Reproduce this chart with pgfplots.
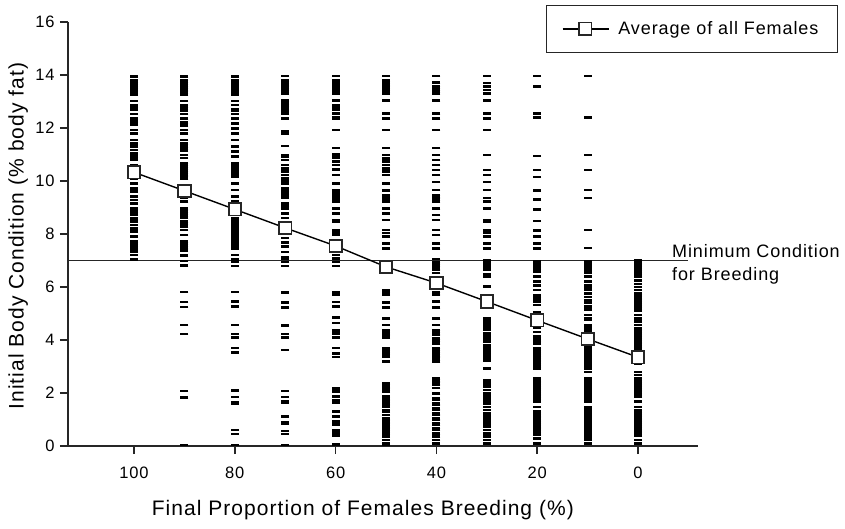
\documentclass[border=0pt]{standalone}
\usepackage{fontspec}
\setmainfont{Liberation Sans}[LetterSpace=5]
\usepackage{pgfplots}
\pgfplotsset{compat=1.18}
\pgfplotsset{dash/.style={only marks, mark=-, mark size=4pt, mark options={line width=2.5pt, black}, forget plot}}
\begin{document}
\begin{tikzpicture}
\path[use as bounding box] (-68pt,-82pt) rectangle (777pt,446pt);
\begin{axis}[
  at={(0pt,0pt)}, anchor=south west,
  scale only axis, width=630pt, height=424pt,
  xmin=-13.1, xmax=111.9, ymin=0, ymax=16,
  x filter/.expression={100-x},
  axis lines*=left, axis line style={line width=1.6pt, black!85, -},
  tick pos=left,
  xtick={0,20,40,60,80,100}, xticklabels={100,80,60,40,20,0},
  ytick={0,2,4,6,8,10,12,14,16},
  minor tick num=0,
  tick align=outside, major tick length=8pt,
  major tick style={line width=1.6pt, black!85},
  /pgf/number format/assume math mode=true,
  ticklabel style={font=\fontsize{16.5}{18}\selectfont},
  xticklabel style={yshift=-9pt},
  yticklabel style={xshift=-2pt},
  xlabel={Final Proportion of Females Breeding (\%)},
  ylabel={Initial Body Condition (\% body fat)},
  label style={font=\fontsize{21}{24}\selectfont},
  xlabel style={at={(axis description cs:0.468,-0.151)}, anchor=center},
  ylabel style={at={(axis description cs:-0.079,0.495)}, anchor=center},
  clip=false,
  legend style={at={(1.222,1.040)}, anchor=north east, draw=black!85, line width=1pt,
    inner xsep=16pt, inner ysep=13pt, column sep=6pt, nodes={inner sep=3pt},
    font=\fontsize{18}{20}\selectfont},
  legend image code/.code={
    \draw[black, line width=1.4pt] (0pt,0pt) -- (46pt,0pt);
    \draw[black!85, fill=white, line width=1.5pt] (16.5pt,-6.2pt) rectangle (29pt,6.2pt);
  },
]
% 100 %
\addplot[dash] coordinates {(100,13.94)(100,13.81)(100,13.74)(100,13.67)(100,13.60)(100,13.53)(100,13.46)(100,13.39)(100,13.32)(100,13.25)(100,13.02)(100,12.87)(100,12.80)(100,12.73)(100,12.68)(100,12.53)(100,12.36)(100,12.29)(100,12.22)(100,12.15)(100,12.11)(100,11.92)(100,11.80)(100,11.55)(100,11.42)(100,11.30)(100,11.17)(100,11.04)(100,10.92)(100,10.85)(100,10.79)(100,10.60)(100,10.48)(100,10.40)(100,10.30)(100,10.22)(100,10.10)(100,9.91)(100,9.72)(100,9.60)(100,9.41)(100,9.28)(100,9.16)(100,8.97)(100,8.90)(100,8.83)(100,8.76)(100,8.72)(100,8.59)(100,8.52)(100,8.47)(100,8.34)(100,8.21)(100,8.09)(100,7.90)(100,7.71)(100,7.64)(100,7.57)(100,7.50)(100,7.43)(100,7.36)(100,7.33)(100,7.21)(100,7.04)};
% 90 %
\addplot[dash] coordinates {(90,13.94)(90,13.81)(90,13.74)(90,13.67)(90,13.60)(90,13.53)(90,13.46)(90,13.39)(90,13.32)(90,13.25)(90,13.02)(90,12.87)(90,12.80)(90,12.73)(90,12.66)(90,12.53)(90,12.36)(90,12.21)(90,12.09)(90,11.92)(90,11.80)(90,11.55)(90,11.42)(90,11.30)(90,11.23)(90,11.16)(90,10.98)(90,10.86)(90,10.67)(90,10.60)(90,10.53)(90,10.46)(90,10.39)(90,10.32)(90,10.25)(90,10.18)(90,10.10)(90,9.85)(90,9.47)(90,9.35)(90,9.22)(90,8.97)(90,8.90)(90,8.83)(90,8.76)(90,8.69)(90,8.62)(90,8.47)(90,8.40)(90,8.28)(90,8.15)(90,7.96)(90,7.71)(90,7.64)(90,7.57)(90,7.50)(90,7.43)(90,7.36)(90,7.18)(90,6.99)(90,6.81)(90,5.82)(90,5.44)(90,5.25)(90,4.57)(90,4.22)(90,2.08)(90,1.83)(90,0.03)};
% 80 %
\addplot[dash] coordinates {(80,13.94)(80,13.81)(80,13.74)(80,13.67)(80,13.60)(80,13.53)(80,13.46)(80,13.39)(80,13.32)(80,13.25)(80,13.02)(80,12.87)(80,12.72)(80,12.65)(80,12.53)(80,12.36)(80,12.17)(80,11.98)(80,11.80)(80,11.55)(80,11.30)(80,11.11)(80,10.92)(80,10.67)(80,10.60)(80,10.53)(80,10.46)(80,10.39)(80,10.30)(80,10.22)(80,10.16)(80,9.91)(80,9.66)(80,9.41)(80,9.22)(80,9.10)(80,8.72)(80,8.59)(80,8.47)(80,8.40)(80,8.33)(80,8.21)(80,8.09)(80,8.02)(80,7.95)(80,7.85)(80,7.78)(80,7.71)(80,7.60)(80,7.53)(80,7.46)(80,7.21)(80,7.05)(80,6.97)(80,6.79)(80,5.82)(80,5.45)(80,5.26)(80,4.57)(80,4.23)(80,4.10)(80,3.69)(80,3.52)(80,2.09)(80,1.84)(80,1.66)(80,1.60)(80,0.60)(80,0.45)(80,0.04)};
% 70 %
\addplot[dash] coordinates {(70,13.96)(70,13.79)(70,13.72)(70,13.65)(70,13.58)(70,13.51)(70,13.44)(70,13.37)(70,13.30)(70,13.03)(70,12.93)(70,12.84)(70,12.74)(70,12.65)(70,12.55)(70,12.36)(70,11.86)(70,11.77)(70,11.32)(70,10.98)(70,10.90)(70,10.79)(70,10.60)(70,10.48)(70,10.35)(70,10.23)(70,10.10)(70,10.00)(70,9.91)(70,9.72)(70,9.62)(70,9.53)(70,9.45)(70,9.35)(70,9.16)(70,9.05)(70,8.97)(70,8.78)(70,8.60)(70,8.45)(70,8.03)(70,7.84)(70,7.67)(70,7.52)(70,7.33)(70,7.14)(70,7.05)(70,6.95)(70,6.79)(70,5.80)(70,5.42)(70,5.25)(70,5.20)(70,4.57)(70,4.52)(70,4.22)(70,4.10)(70,3.62)(70,2.08)(70,1.85)(70,1.68)(70,1.62)(70,1.12)(70,0.88)(70,0.83)(70,0.57)(70,0.45)(70,0.03)};
% 60 %
\addplot[dash] coordinates {(60,13.96)(60,13.79)(60,13.72)(60,13.65)(60,13.58)(60,13.51)(60,13.44)(60,13.37)(60,13.30)(60,13.03)(60,12.87)(60,12.78)(60,12.68)(60,12.55)(60,12.40)(60,12.36)(60,11.92)(60,11.25)(60,11.00)(60,10.92)(60,10.87)(60,10.73)(60,10.60)(60,10.43)(60,10.23)(60,9.91)(60,9.64)(60,9.53)(60,9.41)(60,9.35)(60,9.28)(60,9.22)(60,8.97)(60,8.78)(60,8.53)(60,8.47)(60,8.15)(60,8.05)(60,7.96)(60,7.65)(60,7.46)(60,7.21)(60,7.08)(60,6.95)(60,6.79)(60,5.82)(60,5.76)(60,5.70)(60,5.44)(60,5.26)(60,4.85)(60,4.64)(60,4.35)(60,4.28)(60,4.22)(60,4.09)(60,3.69)(60,3.50)(60,3.35)(60,2.17)(60,2.11)(60,2.05)(60,1.86)(60,1.74)(60,1.68)(60,1.62)(60,1.31)(60,1.12)(60,0.93)(60,0.86)(60,0.80)(60,0.60)(60,0.54)(60,0.48)(60,0.38)(60,0.06)};
% 50 %
\addplot[dash] coordinates {(50,13.96)(50,13.79)(50,13.72)(50,13.65)(50,13.58)(50,13.51)(50,13.44)(50,13.37)(50,13.30)(50,13.03)(50,12.55)(50,12.36)(50,11.92)(50,11.25)(50,10.98)(50,10.85)(50,10.73)(50,10.60)(50,10.48)(50,10.41)(50,10.35)(50,10.23)(50,9.91)(50,9.64)(50,9.47)(50,9.41)(50,9.35)(50,9.28)(50,9.22)(50,8.97)(50,8.78)(50,8.53)(50,8.15)(50,8.03)(50,7.90)(50,7.65)(50,7.46)(50,6.95)(50,6.83)(50,5.89)(50,5.82)(50,5.76)(50,5.70)(50,5.42)(50,5.22)(50,4.82)(50,4.57)(50,4.38)(50,4.32)(50,4.25)(50,4.19)(50,4.10)(50,3.69)(50,3.62)(50,3.55)(50,3.50)(50,3.37)(50,3.18)(50,2.36)(50,2.24)(50,2.18)(50,2.11)(50,2.05)(50,1.86)(50,1.80)(50,1.74)(50,1.67)(50,1.61)(50,1.55)(50,1.48)(50,1.36)(50,1.30)(50,1.17)(50,1.04)(50,0.98)(50,0.92)(50,0.86)(50,0.79)(50,0.73)(50,0.67)(50,0.60)(50,0.54)(50,0.48)(50,0.35)(50,0.23)(50,0.10)(50,0.04)};
% 40 %
\addplot[dash] coordinates {(40,13.96)(40,13.71)(40,13.58)(40,13.50)(40,13.43)(40,13.36)(40,13.28)(40,13.03)(40,12.55)(40,12.36)(40,11.92)(40,11.25)(40,10.98)(40,10.79)(40,10.60)(40,10.42)(40,10.23)(40,9.97)(40,9.66)(40,9.47)(40,9.41)(40,9.35)(40,9.28)(40,9.22)(40,8.97)(40,8.72)(40,8.53)(40,8.15)(40,7.96)(40,7.65)(40,7.46)(40,7.05)(40,6.95)(40,6.89)(40,6.82)(40,6.70)(40,6.64)(40,6.52)(40,6.33)(40,5.82)(40,5.76)(40,5.70)(40,5.45)(40,5.22)(40,4.82)(40,4.57)(40,4.38)(40,4.32)(40,4.25)(40,4.19)(40,4.06)(40,3.99)(40,3.87)(40,3.69)(40,3.62)(40,3.55)(40,3.48)(40,3.41)(40,3.35)(40,3.26)(40,3.18)(40,2.55)(40,2.48)(40,2.42)(40,2.36)(40,2.30)(40,2.18)(40,1.99)(40,1.80)(40,1.74)(40,1.61)(40,1.55)(40,1.42)(40,1.36)(40,1.23)(40,1.17)(40,1.04)(40,0.98)(40,0.86)(40,0.79)(40,0.67)(40,0.60)(40,0.48)(40,0.35)(40,0.23)(40,0.10)};
% 30 %
\addplot[dash] coordinates {(30,13.96)(30,13.69)(30,13.56)(30,13.44)(30,13.31)(30,13.03)(30,12.55)(30,12.36)(30,11.92)(30,10.98)(30,10.42)(30,10.23)(30,9.97)(30,9.66)(30,9.35)(30,9.22)(30,8.97)(30,8.53)(30,8.47)(30,8.15)(30,8.05)(30,7.90)(30,7.65)(30,7.46)(30,7.00)(30,6.93)(30,6.86)(30,6.79)(30,6.72)(30,6.64)(30,6.49)(30,6.39)(30,6.01)(30,4.81)(30,4.69)(30,4.62)(30,4.55)(30,4.48)(30,4.38)(30,4.25)(30,4.19)(30,4.12)(30,4.06)(30,3.94)(30,3.81)(30,3.74)(30,3.68)(30,3.62)(30,3.55)(30,3.48)(30,3.41)(30,3.34)(30,3.27)(30,3.20)(30,2.93)(30,2.49)(30,2.42)(30,2.36)(30,2.30)(30,2.24)(30,2.11)(30,1.99)(30,1.86)(30,1.80)(30,1.67)(30,1.61)(30,1.48)(30,1.36)(30,1.23)(30,1.11)(30,1.04)(30,0.92)(30,0.86)(30,0.79)(30,0.73)(30,0.60)(30,0.48)(30,0.35)(30,0.23)(30,0.10)};
% 20 %
\addplot[dash] coordinates {(20,13.96)(20,13.56)(20,12.55)(20,12.40)(20,10.94)(20,10.41)(20,10.16)(20,9.64)(20,9.31)(20,8.93)(20,8.50)(20,8.13)(20,7.90)(20,7.65)(20,7.46)(20,6.96)(20,6.89)(20,6.82)(20,6.75)(20,6.68)(20,6.62)(20,6.58)(20,6.39)(20,6.20)(20,6.05)(20,5.89)(20,5.70)(20,5.64)(20,5.57)(20,5.50)(20,5.45)(20,5.32)(20,5.05)(20,4.95)(20,4.55)(20,4.45)(20,4.31)(20,4.13)(20,4.06)(20,3.99)(20,3.87)(20,3.69)(20,3.62)(20,3.55)(20,3.48)(20,3.41)(20,3.34)(20,3.27)(20,3.20)(20,3.13)(20,3.06)(20,2.99)(20,2.93)(20,2.55)(20,2.48)(20,2.41)(20,2.34)(20,2.27)(20,2.20)(20,2.13)(20,2.06)(20,1.99)(20,1.92)(20,1.86)(20,1.80)(20,1.67)(20,1.48)(20,1.30)(20,1.23)(20,1.16)(20,1.09)(20,1.02)(20,0.95)(20,0.88)(20,0.81)(20,0.74)(20,0.67)(20,0.60)(20,0.53)(20,0.46)(20,0.42)(20,0.29)(20,0.10)};
% 10 %
\addplot[dash] coordinates {(10,13.96)(10,12.40)(10,10.98)(10,10.41)(10,9.66)(10,9.35)(10,8.15)(10,7.48)(10,6.96)(10,6.89)(10,6.82)(10,6.75)(10,6.68)(10,6.62)(10,6.52)(10,6.39)(10,6.20)(10,6.05)(10,5.98)(10,5.89)(10,5.76)(10,5.63)(10,5.50)(10,5.42)(10,5.26)(10,5.20)(10,5.13)(10,4.95)(10,4.82)(10,4.75)(10,4.55)(10,4.45)(10,4.38)(10,4.31)(10,4.20)(10,3.80)(10,3.69)(10,3.62)(10,3.55)(10,3.48)(10,3.41)(10,3.34)(10,3.27)(10,3.20)(10,3.13)(10,3.06)(10,2.99)(10,2.93)(10,2.80)(10,2.55)(10,2.48)(10,2.41)(10,2.34)(10,2.27)(10,2.20)(10,2.13)(10,2.06)(10,1.99)(10,1.92)(10,1.86)(10,1.80)(10,1.67)(10,1.48)(10,1.41)(10,1.34)(10,1.27)(10,1.20)(10,1.13)(10,1.06)(10,0.99)(10,0.92)(10,0.85)(10,0.78)(10,0.71)(10,0.64)(10,0.57)(10,0.50)(10,0.43)(10,0.36)(10,0.29)(10,0.22)(10,0.10)};
% 0 %
\addplot[dash] coordinates {(0,7.00)(0,6.93)(0,6.86)(0,6.79)(0,6.72)(0,6.65)(0,6.58)(0,6.51)(0,6.44)(0,6.37)(0,6.25)(0,6.12)(0,6.00)(0,5.88)(0,5.75)(0,5.68)(0,5.61)(0,5.54)(0,5.47)(0,5.40)(0,5.33)(0,5.26)(0,5.19)(0,5.12)(0,4.94)(0,4.81)(0,4.69)(0,4.56)(0,4.44)(0,4.37)(0,4.30)(0,4.23)(0,4.16)(0,4.09)(0,4.02)(0,3.95)(0,3.88)(0,3.81)(0,3.74)(0,3.67)(0,3.55)(0,3.20)(0,3.10)(0,2.79)(0,2.67)(0,2.56)(0,2.49)(0,2.42)(0,2.35)(0,2.28)(0,2.21)(0,2.14)(0,2.07)(0,2.00)(0,1.93)(0,1.86)(0,1.67)(0,1.48)(0,1.36)(0,1.29)(0,1.22)(0,1.15)(0,1.08)(0,1.01)(0,0.94)(0,0.87)(0,0.80)(0,0.73)(0,0.66)(0,0.59)(0,0.52)(0,0.45)(0,0.38)(0,0.23)(0,0.10)};
% threshold line
\addplot[black!85, line width=1.2pt, forget plot] coordinates {(113.1,7) (-9.9,7)};
% averages
\addplot[black, line width=1.4pt, mark=square*, mark size=6.2pt, mark options={fill=white, draw=black!85, line width=1.8pt}]
  coordinates {(100,10.33)(90,9.63)(80,8.93)(70,8.23)(60,7.55)(50,6.76)(40,6.15)(30,5.45)(20,4.74)(10,4.04)(0,3.35)};
\addlegendentry{Average of all Females}
\node[anchor=base west, inner sep=0pt, font=\fontsize{18}{20}\selectfont] at (rel axis cs:0.9587,0.4434) {Minimum Condition};
\node[anchor=base west, inner sep=0pt, font=\fontsize{18}{20}\selectfont] at (rel axis cs:0.9587,0.3892) {for Breeding};
\end{axis}
\end{tikzpicture}
\end{document}
